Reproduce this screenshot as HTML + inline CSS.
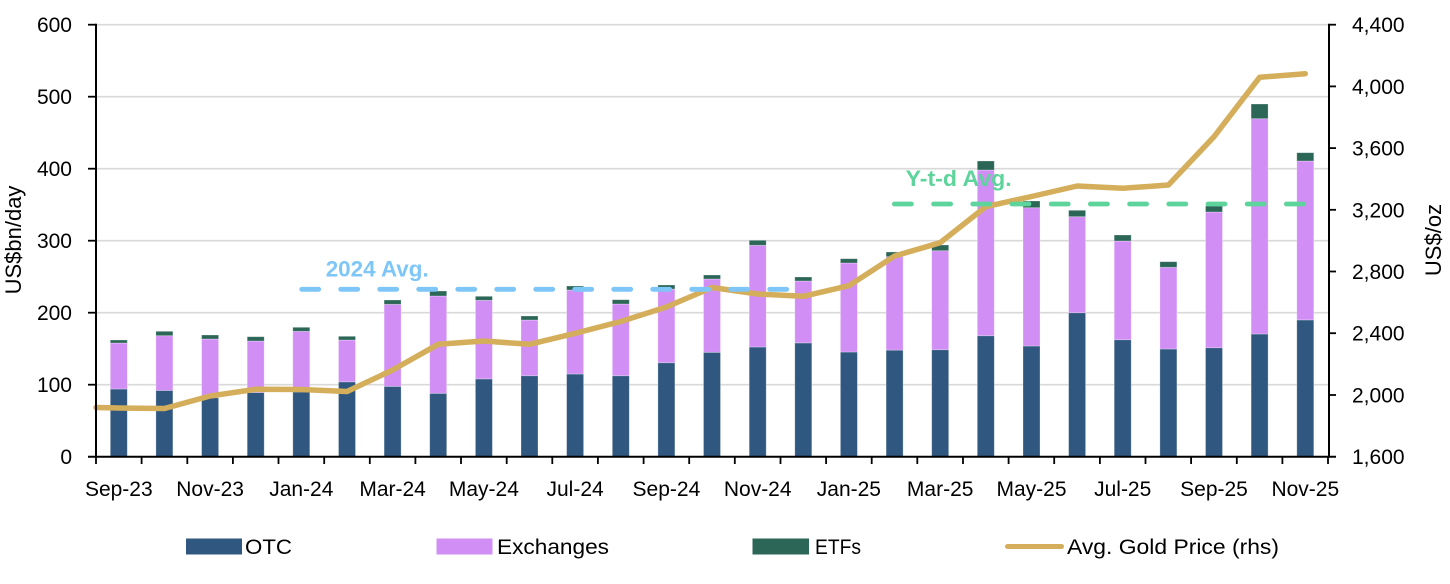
<!DOCTYPE html>
<html><head><meta charset="utf-8"><style>
html,body{margin:0;padding:0;background:#fff;}
svg{display:block;font-family:"Liberation Sans",Arial,sans-serif;}
</style></head><body>
<svg width="1450" height="584" viewBox="0 0 1450 584" xmlns="http://www.w3.org/2000/svg">
<rect width="1450" height="584" fill="#fff"/>
<!-- gridlines -->
<g stroke="#D9D9D9" stroke-width="1.6">
<line x1="96" y1="24.7" x2="1329" y2="24.7"/>
<line x1="96" y1="96.7" x2="1329" y2="96.7"/>
<line x1="96" y1="168.7" x2="1329" y2="168.7"/>
<line x1="96" y1="240.7" x2="1329" y2="240.7"/>
<line x1="96" y1="312.7" x2="1329" y2="312.7"/>
<line x1="96" y1="384.7" x2="1329" y2="384.7"/>
</g>
<!-- bars -->
<g stroke="#ffffff" stroke-opacity="0.35" stroke-width="0.8">
<!-- OTC -->
<g fill="#30577F">
<rect x="110.3" y="389.0" width="17" height="67.7"/>
<rect x="155.9" y="390.5" width="17" height="66.2"/>
<rect x="201.6" y="397.7" width="17" height="59.0"/>
<rect x="247.2" y="392.6" width="17" height="64.1"/>
<rect x="292.8" y="391.9" width="17" height="64.8"/>
<rect x="338.5" y="381.8" width="17" height="74.9"/>
<rect x="384.1" y="386.4" width="17" height="70.3"/>
<rect x="429.7" y="393.3" width="17" height="63.4"/>
<rect x="475.4" y="378.9" width="17" height="77.8"/>
<rect x="521.0" y="375.7" width="17" height="81.0"/>
<rect x="566.6" y="374.0" width="17" height="82.7"/>
<rect x="612.3" y="375.7" width="17" height="81.0"/>
<rect x="657.9" y="362.7" width="17" height="94.0"/>
<rect x="703.5" y="352.3" width="17" height="104.4"/>
<rect x="749.2" y="347.0" width="17" height="109.7"/>
<rect x="794.8" y="342.9" width="17" height="113.8"/>
<rect x="840.4" y="352.0" width="17" height="104.7"/>
<rect x="886.1" y="350.1" width="17" height="106.6"/>
<rect x="931.7" y="349.7" width="17" height="107.0"/>
<rect x="977.3" y="335.7" width="17" height="121.0"/>
<rect x="1023.0" y="346.0" width="17" height="110.7"/>
<rect x="1068.6" y="312.7" width="17" height="144.0"/>
<rect x="1114.2" y="339.7" width="17" height="117.0"/>
<rect x="1159.9" y="349.0" width="17" height="107.7"/>
<rect x="1205.5" y="347.7" width="17" height="109.0"/>
<rect x="1251.1" y="334.0" width="17" height="122.7"/>
<rect x="1296.8" y="319.9" width="17" height="136.8"/>
</g>
<!-- Exchanges -->
<g fill="#D18FF5">
<rect x="110.3" y="343.0" width="17" height="46.0"/>
<rect x="155.9" y="335.7" width="17" height="54.8"/>
<rect x="201.6" y="339.0" width="17" height="58.7"/>
<rect x="247.2" y="341.0" width="17" height="51.6"/>
<rect x="292.8" y="331.3" width="17" height="60.6"/>
<rect x="338.5" y="340.0" width="17" height="41.8"/>
<rect x="384.1" y="304.3" width="17" height="82.1"/>
<rect x="429.7" y="296.0" width="17" height="97.3"/>
<rect x="475.4" y="300.3" width="17" height="78.6"/>
<rect x="521.0" y="320.0" width="17" height="55.7"/>
<rect x="566.6" y="290.0" width="17" height="84.0"/>
<rect x="612.3" y="304.0" width="17" height="71.7"/>
<rect x="657.9" y="289.0" width="17" height="73.7"/>
<rect x="703.5" y="279.0" width="17" height="73.3"/>
<rect x="749.2" y="245.3" width="17" height="101.7"/>
<rect x="794.8" y="281.0" width="17" height="61.9"/>
<rect x="840.4" y="263.0" width="17" height="89.0"/>
<rect x="886.1" y="256.7" width="17" height="93.4"/>
<rect x="931.7" y="250.7" width="17" height="99.0"/>
<rect x="977.3" y="170.0" width="17" height="165.7"/>
<rect x="1023.0" y="207.7" width="17" height="138.3"/>
<rect x="1068.6" y="216.7" width="17" height="96.0"/>
<rect x="1114.2" y="241.0" width="17" height="98.7"/>
<rect x="1159.9" y="267.3" width="17" height="81.7"/>
<rect x="1205.5" y="212.0" width="17" height="135.7"/>
<rect x="1251.1" y="118.7" width="17" height="215.3"/>
<rect x="1296.8" y="161.0" width="17" height="158.9"/>
</g>
<!-- ETFs -->
<g fill="#2B6657">
<rect x="110.3" y="340.0" width="17" height="3.0"/>
<rect x="155.9" y="331.3" width="17" height="4.4"/>
<rect x="201.6" y="335.0" width="17" height="4.0"/>
<rect x="247.2" y="336.7" width="17" height="4.3"/>
<rect x="292.8" y="327.3" width="17" height="4.0"/>
<rect x="338.5" y="336.3" width="17" height="3.7"/>
<rect x="384.1" y="300.0" width="17" height="4.3"/>
<rect x="429.7" y="291.0" width="17" height="5.0"/>
<rect x="475.4" y="296.3" width="17" height="4.0"/>
<rect x="521.0" y="316.0" width="17" height="4.0"/>
<rect x="566.6" y="286.0" width="17" height="4.0"/>
<rect x="612.3" y="299.7" width="17" height="4.3"/>
<rect x="657.9" y="285.0" width="17" height="4.0"/>
<rect x="703.5" y="275.0" width="17" height="4.0"/>
<rect x="749.2" y="240.3" width="17" height="5.0"/>
<rect x="794.8" y="277.0" width="17" height="4.0"/>
<rect x="840.4" y="258.7" width="17" height="4.3"/>
<rect x="886.1" y="252.0" width="17" height="4.7"/>
<rect x="931.7" y="245.0" width="17" height="5.7"/>
<rect x="977.3" y="161.0" width="17" height="9.0"/>
<rect x="1023.0" y="201.0" width="17" height="6.7"/>
<rect x="1068.6" y="210.3" width="17" height="6.4"/>
<rect x="1114.2" y="235.0" width="17" height="6.0"/>
<rect x="1159.9" y="261.7" width="17" height="5.6"/>
<rect x="1205.5" y="206.0" width="17" height="6.0"/>
<rect x="1251.1" y="104.0" width="17" height="14.7"/>
<rect x="1296.8" y="152.7" width="17" height="8.3"/>
</g>
</g>
<!-- gold line -->
<path d="M96,407.5 L118.8,408 L164.4,408.5 L210.1,396 L255.7,389.3 L301.3,389.5 L347,391.5 L392.6,370 L438.2,344.3 L483.9,341 L529.5,344.3 L575.1,333.3 L620.8,321.5 L666.4,307 L712,287.5 L757.7,294 L803.3,296.3 L848.9,285.7 L894.6,256 L940.2,242.7 L985.8,206.7 L1031.5,196.5 L1077.1,186 L1122.7,188.3 L1168.4,185 L1214,136.7 L1259.6,77.3 L1305.3,73.7" fill="none" stroke="#D4AE5B" stroke-width="5.5" stroke-linejoin="round" stroke-linecap="round"/>
<!-- average dashed lines -->
<line x1="301.7" y1="289.3" x2="790" y2="289.3" stroke="#7EC6F7" stroke-width="4.8" stroke-linecap="round" stroke-dasharray="17 22"/>
<line x1="894.4" y1="204" x2="1306" y2="204" stroke="#5DD49B" stroke-width="4.8" stroke-linecap="round" stroke-dasharray="17 22.2"/>
<text x="325.7" y="276.7" font-size="22.5" font-weight="bold" fill="#7EC6F7" textLength="103" lengthAdjust="spacingAndGlyphs">2024 Avg.</text>
<text x="905.7" y="186" font-size="22.5" font-weight="bold" fill="#5DD49B" textLength="106" lengthAdjust="spacingAndGlyphs">Y-t-d Avg.</text>
<!-- axes -->
<g stroke="#000" stroke-width="2">
<line x1="96" y1="23.7" x2="96" y2="457.7"/>
<line x1="1329" y1="23.7" x2="1329" y2="457.7"/>
<line x1="88" y1="456.7" x2="1336" y2="456.7"/>
</g>
<g stroke="#000" stroke-width="1.8">
<!-- left ticks -->
<line x1="88" y1="24.7" x2="96" y2="24.7"/>
<line x1="88" y1="96.7" x2="96" y2="96.7"/>
<line x1="88" y1="168.7" x2="96" y2="168.7"/>
<line x1="88" y1="240.7" x2="96" y2="240.7"/>
<line x1="88" y1="312.7" x2="96" y2="312.7"/>
<line x1="88" y1="384.7" x2="96" y2="384.7"/>
<!-- right ticks -->
<line x1="1329" y1="24.7" x2="1336" y2="24.7"/>
<line x1="1329" y1="86.4" x2="1336" y2="86.4"/>
<line x1="1329" y1="148.1" x2="1336" y2="148.1"/>
<line x1="1329" y1="209.8" x2="1336" y2="209.8"/>
<line x1="1329" y1="271.5" x2="1336" y2="271.5"/>
<line x1="1329" y1="333.2" x2="1336" y2="333.2"/>
<line x1="1329" y1="395.0" x2="1336" y2="395.0"/>
<!-- x ticks -->
<line x1="96" y1="456.7" x2="96" y2="464"/>
<line x1="141.6" y1="456.7" x2="141.6" y2="464"/>
<line x1="187.3" y1="456.7" x2="187.3" y2="464"/>
<line x1="232.9" y1="456.7" x2="232.9" y2="464"/>
<line x1="278.5" y1="456.7" x2="278.5" y2="464"/>
<line x1="324.2" y1="456.7" x2="324.2" y2="464"/>
<line x1="369.8" y1="456.7" x2="369.8" y2="464"/>
<line x1="415.4" y1="456.7" x2="415.4" y2="464"/>
<line x1="461.0" y1="456.7" x2="461.0" y2="464"/>
<line x1="506.7" y1="456.7" x2="506.7" y2="464"/>
<line x1="552.3" y1="456.7" x2="552.3" y2="464"/>
<line x1="597.9" y1="456.7" x2="597.9" y2="464"/>
<line x1="643.6" y1="456.7" x2="643.6" y2="464"/>
<line x1="689.2" y1="456.7" x2="689.2" y2="464"/>
<line x1="734.8" y1="456.7" x2="734.8" y2="464"/>
<line x1="780.5" y1="456.7" x2="780.5" y2="464"/>
<line x1="826.1" y1="456.7" x2="826.1" y2="464"/>
<line x1="871.7" y1="456.7" x2="871.7" y2="464"/>
<line x1="917.3" y1="456.7" x2="917.3" y2="464"/>
<line x1="963.0" y1="456.7" x2="963.0" y2="464"/>
<line x1="1008.6" y1="456.7" x2="1008.6" y2="464"/>
<line x1="1054.2" y1="456.7" x2="1054.2" y2="464"/>
<line x1="1099.9" y1="456.7" x2="1099.9" y2="464"/>
<line x1="1145.5" y1="456.7" x2="1145.5" y2="464"/>
<line x1="1191.1" y1="456.7" x2="1191.1" y2="464"/>
<line x1="1236.8" y1="456.7" x2="1236.8" y2="464"/>
<line x1="1282.4" y1="456.7" x2="1282.4" y2="464"/>
<line x1="1328" y1="456.7" x2="1328" y2="464"/>
</g>
<!-- left tick labels -->
<g font-size="21" fill="#000" text-anchor="end">
<text x="72" y="32.2">600</text>
<text x="72" y="104.2">500</text>
<text x="72" y="176.2">400</text>
<text x="72" y="248.2">300</text>
<text x="72" y="320.2">200</text>
<text x="72" y="392.2">100</text>
<text x="72" y="464.2">0</text>
</g>
<!-- right tick labels -->
<g font-size="21" fill="#000">
<text x="1352" y="32.2">4,400</text>
<text x="1352" y="93.9">4,000</text>
<text x="1352" y="155.6">3,600</text>
<text x="1352" y="217.3">3,200</text>
<text x="1352" y="279.0">2,800</text>
<text x="1352" y="340.7">2,400</text>
<text x="1352" y="402.5">2,000</text>
<text x="1352" y="464.2">1,600</text>
</g>
<!-- x labels -->
<g font-size="21" fill="#000" text-anchor="middle">
<text x="118.8" y="496">Sep-23</text>
<text x="210.1" y="496">Nov-23</text>
<text x="301.3" y="496">Jan-24</text>
<text x="392.6" y="496">Mar-24</text>
<text x="483.9" y="496">May-24</text>
<text x="575.1" y="496">Jul-24</text>
<text x="666.4" y="496">Sep-24</text>
<text x="757.7" y="496">Nov-24</text>
<text x="848.9" y="496">Jan-25</text>
<text x="940.2" y="496">Mar-25</text>
<text x="1031.5" y="496">May-25</text>
<text x="1122.7" y="496">Jul-25</text>
<text x="1214.0" y="496">Sep-25</text>
<text x="1305.3" y="496">Nov-25</text>
</g>
<!-- axis titles -->
<text transform="translate(21,240) rotate(-90)" font-size="22" text-anchor="middle" fill="#000">US$bn/day</text>
<text transform="translate(1441,240) rotate(-90)" font-size="22" text-anchor="middle" fill="#000">US$/oz</text>
<!-- legend -->
<rect x="186" y="538.5" width="56" height="16" fill="#30577F"/>
<text x="245" y="554" font-size="21" fill="#000" textLength="47" lengthAdjust="spacingAndGlyphs">OTC</text>
<rect x="436.5" y="538.5" width="56" height="16" fill="#D18FF5"/>
<text x="497" y="554" font-size="21" fill="#000" textLength="112" lengthAdjust="spacingAndGlyphs">Exchanges</text>
<rect x="752.5" y="538.5" width="56.5" height="16" fill="#2B6657"/>
<text x="815" y="554" font-size="21" fill="#000" textLength="46" lengthAdjust="spacingAndGlyphs">ETFs</text>
<line x1="1007.5" y1="546.5" x2="1061.5" y2="546.5" stroke="#D4AE5B" stroke-width="5" stroke-linecap="round"/>
<text x="1067" y="554" font-size="21" fill="#000" textLength="212" lengthAdjust="spacingAndGlyphs">Avg. Gold Price (rhs)</text>
</svg>
</body></html>
